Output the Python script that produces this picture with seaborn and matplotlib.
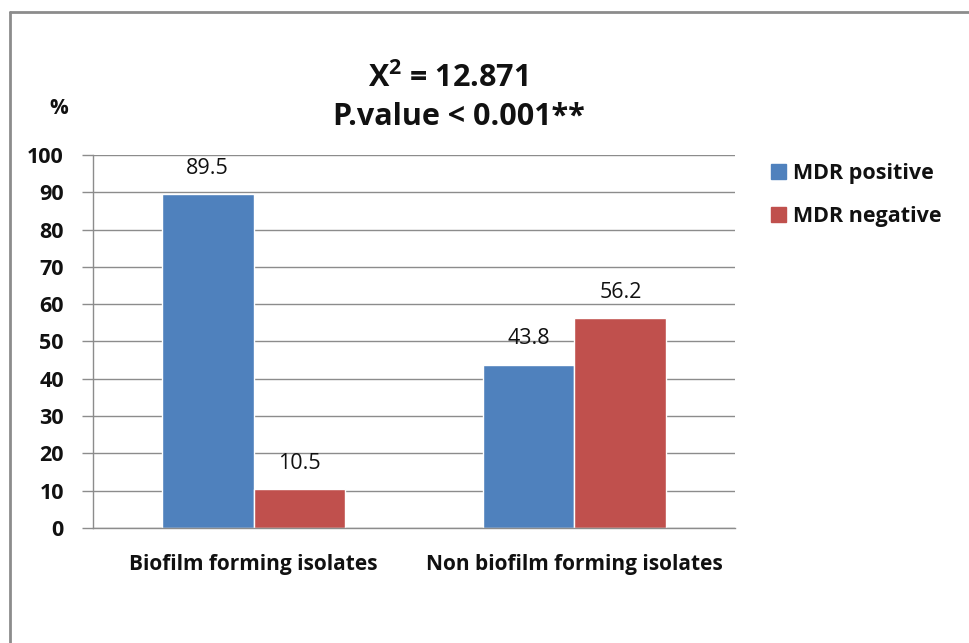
import matplotlib
matplotlib.use("Agg")
import matplotlib.pyplot as plt
import matplotlib.lines as mlines
import matplotlib.patches as mpatches
import seaborn as sns
import pandas as pd

categories = ["Biofilm forming isolates", "Non biofilm forming isolates"]
series = ["MDR positive", "MDR negative"]
mdr_positive = [89.5, 43.8]
mdr_negative = [10.5, 56.2]
y_ticks = [0, 10, 20, 30, 40, 50, 60, 70, 80, 90, 100]
colors = ["#4F81BD", "#C0504D"]

df = pd.DataFrame({
    "group": categories * 2,
    "status": [series[0]] * 2 + [series[1]] * 2,
    "value": mdr_positive + mdr_negative,
})

sns.set_theme(style="white")
plt.rcParams["font.family"] = ["Open Sans", "DejaVu Sans"]

fig = plt.figure(figsize=(9.69, 6.43), dpi=100)
ax = fig.add_axes([0.096, 0.1788, 0.6625, 0.5802])

sns.barplot(data=df, x="group", y="value", hue="status", order=categories,
            hue_order=series, palette=colors, width=0.573, saturation=1,
            ax=ax, legend=False)

for cont in ax.containers:
    ax.bar_label(cont, fmt="%.1f", padding=11, fontsize=15.5, color="#111111")

ax.set_ylim(0, 100)
ax.set_xlim(-0.5, 1.5)
ax.set_yticks(y_ticks)
ax.set_yticklabels([str(t) for t in y_ticks], fontsize=15.5, fontweight="bold",
                   color="#111111")
ax.set_xticks([0, 1])
ax.set_xticklabels(categories, fontsize=15, fontweight="bold", color="#111111")
ax.set_xlabel("")
ax.set_ylabel("")
ax.yaxis.grid(True, color="#8c8c8c", linewidth=1.0)
ax.set_axisbelow(True)
for s in ["top", "right"]:
    ax.spines[s].set_visible(False)
for s in ["left", "bottom"]:
    ax.spines[s].set_color("#8c8c8c")
    ax.spines[s].set_linewidth(1.0)
ax.tick_params(axis="y", which="major", length=8, width=1.0, color="#8c8c8c",
               direction="out", left=True, pad=13)
ax.tick_params(axis="x", length=0, pad=19)

# title block and axis unit
fig.text(0.462, 0.878, "X$^{\\mathregular{2}}$ = 12.871", ha="center", va="center",
         fontsize=22, fontweight="bold", color="#111111")
fig.text(0.474, 0.818, "P.value < 0.001**", ha="center", va="center",
         fontsize=22, fontweight="bold", color="#111111")
fig.text(0.061, 0.832, "%", ha="center", va="center", fontsize=15,
         fontweight="bold", color="#111111")

# legend
handles = [mpatches.Patch(color=c, label=l) for c, l in zip(colors, series)]
leg = fig.legend(handles=handles, loc="upper left", bbox_to_anchor=(0.776, 0.776),
                 frameon=False, prop={"size": 15.5, "weight": "bold"},
                 handlelength=0.7, handleheight=0.7, handletextpad=0.3,
                 labelspacing=1.0)
for t in leg.get_texts():
    t.set_color("#111111")

# outer frame on the left and top edges
fig.add_artist(mlines.Line2D([0.0108, 0.0108], [0.0, 0.9813], color="#8c8c8c",
                             linewidth=2, transform=fig.transFigure))
fig.add_artist(mlines.Line2D([0.0108, 1.0], [0.9813, 0.9813], color="#8c8c8c",
                             linewidth=2, transform=fig.transFigure))

fig.savefig("out.png", dpi=100, facecolor="white")
